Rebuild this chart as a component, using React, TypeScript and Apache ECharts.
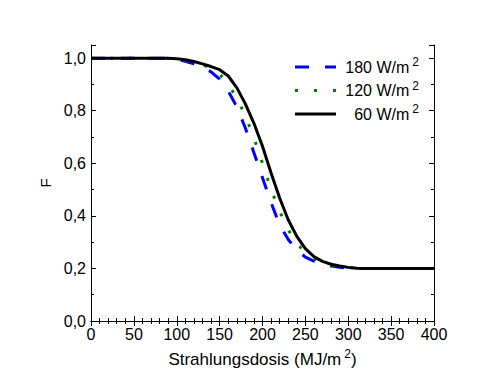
import React, { useEffect, useRef } from "react";
import * as echarts from "echarts";

// Strahlungsdosis (MJ/m²)
const dose = [0, 50, 80, 90, 100, 110, 120, 130, 140, 150, 160, 170, 180, 190, 200, 210, 220, 230, 240, 250, 260, 270, 280, 290, 300, 310, 320, 360, 400];

// F values per irradiance
const f180 = [1.0, 1.0, 1.0, 0.999, 0.996, 0.988, 0.978, 0.965, 0.948, 0.92, 0.875, 0.815, 0.734, 0.64, 0.545, 0.45, 0.365, 0.31, 0.27, 0.243, 0.228, 0.217, 0.209, 0.204, 0.201, 0.2, 0.2, 0.2, 0.2];
const f120 = [1.0, 1.0, 1.0, 0.999, 0.997, 0.992, 0.985, 0.975, 0.96, 0.94, 0.9, 0.85, 0.78, 0.698, 0.6, 0.5, 0.417, 0.347, 0.295, 0.26, 0.237, 0.222, 0.212, 0.206, 0.203, 0.201, 0.2, 0.2, 0.2];
const f60 = [1.0, 1.0, 1.0, 1.0, 0.998, 0.994, 0.987, 0.978, 0.968, 0.956, 0.932, 0.888, 0.826, 0.752, 0.665, 0.563, 0.468, 0.385, 0.322, 0.275, 0.245, 0.227, 0.216, 0.209, 0.204, 0.201, 0.2, 0.2, 0.2];

const seriesLabels = ["180", "120", "60"];
const seriesColors = ["#0000ff", "#008000", "#000000"];

const FONT = 'Arial, "Liberation Sans", sans-serif';

export default function App() {
  const ref = useRef<HTMLDivElement>(null);

  useEffect(() => {
    if (!ref.current) return;
    const chart = echarts.init(ref.current, undefined, { renderer: "svg" });

    const L = { left: 91, right: 434, top: 45, bottom: 321 };

    const tickStyle = { color: "#000", width: 1 };
    const lineAxis = { show: true, lineStyle: { color: "#000", width: 1 } };

    const xBase = {
      type: "value" as const,
      min: 0,
      max: 400,
      interval: 50,
      splitLine: { show: false },
      minorSplitLine: { show: false },
      axisLine: lineAxis,
      axisTick: { show: true, inside: true, length: 5, lineStyle: tickStyle },
      minorTick: { show: true, splitNumber: 5, length: 3, lineStyle: tickStyle },
    };

    const yMajor = (pos: "left" | "right", labels: boolean) => ({
      type: "value" as const,
      position: pos,
      min: 0,
      max: 1.05,
      interval: 0.2,
      splitLine: { show: false },
      axisLine: lineAxis,
      axisTick: { show: true, inside: true, length: 5, lineStyle: tickStyle },
      axisLabel: labels
        ? {
            show: true,
            color: "#000",
            fontSize: 16,
            fontFamily: FONT,
            margin: 5,
            formatter: (v: number) =>
              Math.abs(v * 5 - Math.round(v * 5)) < 1e-6 ? v.toFixed(1).replace(".", ",") : "",
          }
        : { show: false },
    });
    const yMinor = (pos: "left" | "right") => ({
      type: "value" as const,
      position: pos,
      min: 0,
      max: 1.05,
      interval: 0.1,
      splitLine: { show: false },
      axisLine: { show: false },
      axisTick: { show: true, inside: true, length: 3, lineStyle: tickStyle },
      axisLabel: { show: false },
    });

    const dataSets = [f180, f120, f60];
    const lineTypes: any[] = [[14, 16], [3, 16], "solid"];

    const series = dataSets.map((vals, i) => ({
      name: seriesLabels[i],
      type: "line",
      xAxisIndex: 0,
      yAxisIndex: 0,
      data: dose.map((d, j) => [d, vals[j]]),
      showSymbol: false,
      symbol: "none",
      z: 2 + i,
      lineStyle: { color: seriesColors[i], width: 3, type: lineTypes[i], cap: "butt" },
    }));

    const legendY = [67, 90.5, 114];
    const legendGraphics: any[] = [];
    seriesLabels.forEach((lab, i) => {
      legendGraphics.push({
        type: "line",
        shape: { x1: 295, y1: legendY[i], x2: 336, y2: legendY[i] },
        style: {
          stroke: seriesColors[i],
          lineWidth: 3,
          lineDash: i === 2 ? null : (lineTypes[i] as number[]),
        },
      });
      legendGraphics.push({
        type: "text",
        x: 419,
        y: legendY[i],
        style: {
          text: `{n|${lab} W/m}{s|2}`,
          align: "right",
          verticalAlign: "middle",
          textAlign: "right",
          textVerticalAlign: "middle",
          fill: "#000",
          rich: {
            n: { fontSize: 16, fontFamily: FONT, lineHeight: 22, fill: "#000" },
            s: { fontSize: 12, fontFamily: FONT, lineHeight: 12, verticalAlign: "top", padding: [0, 0, 0, 3], fill: "#000" },
          },
        },
      });
    });

    chart.setOption({
      animation: false,
      backgroundColor: "#fff",
      grid: {
        left: L.left,
        top: L.top,
        width: L.right - L.left,
        height: L.bottom - L.top,
        containLabel: false,
      },
      xAxis: [
        {
          ...xBase,
          position: "bottom",
          axisLabel: { show: true, color: "#000", fontSize: 16, fontFamily: FONT, margin: 5 },
          name: "Strahlungsdosis (MJ/m{s|2})",
          nameLocation: "middle",
          nameGap: 27,
          nameTextStyle: {
            color: "#000",
            fontSize: 17,
            fontFamily: FONT,
            lineHeight: 22,
            rich: {
              s: { fontSize: 12, fontFamily: FONT, lineHeight: 12, verticalAlign: "top", padding: [0, 0, 0, 3], color: "#000" },
            },
          },
        },
        { ...xBase, position: "top", axisLabel: { show: false } },
      ],
      yAxis: [
        {
          ...yMajor("left", true),
          name: "F",
          nameLocation: "middle",
          nameGap: 38,
          nameRotate: 90,
          nameTextStyle: { color: "#000", fontSize: 15, fontFamily: FONT },
        },
        yMinor("left"),
        yMajor("right", false),
        yMinor("right"),
      ],
      series,
      graphic: legendGraphics,
    });

    return () => chart.dispose();
  }, []);

  return <div ref={ref} style={{ width: 504, height: 385, margin: -8 }} />;
}
